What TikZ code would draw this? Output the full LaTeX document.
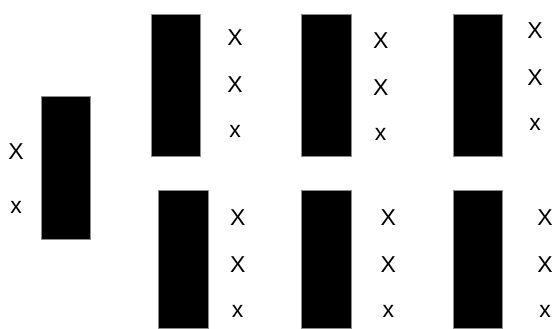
\documentclass[tikz,border=0pt]{standalone}
\usepackage{fontspec}
\setmainfont{Liberation Sans}
\usetikzlibrary{positioning}
\tikzset{
  bar/.style={
    draw=black!45,
    fill=black,
    rectangle,
    line width=0.6pt,
    inner sep=0pt,
    minimum width=49.5pt,
  },
  tallbar/.style={
    bar,
    minimum height=142.7pt
  },
  shortbar/.style={
    bar,
    minimum height=138pt
  },
  mark label/.style={
    inner sep=0pt,
    font=\fontsize{23}{27}\selectfont
  }
}
\begin{document}
\begin{tikzpicture}[x=1pt, y=-1pt]
  \useasboundingbox (0,0) rectangle (555,329);
  % Barres
  \node[bar, minimum height=143pt] (b0) at (66,167.5) {};
  \node[tallbar] (t1) at (175.7,85.3) {};
  \node[tallbar] (t2) at (326.3,85.3) {};
  \node[tallbar] (t3) at (478,85.3) {};
  \node[shortbar] (s1) at (183.5,259.2) {};
  \node[shortbar] (s2) at (326.3,259.2) {};
  \node[shortbar] (s3) at (478,259.2) {};

  % Marques
  \node[mark label] (b0a) at (16,151.7) {X};
  \node[mark label] (b0b) at (16,207) {x};

  \node[mark label] (t1a) at (235,37.7) {X};
  \node[mark label] (t1b) at (235,85) {X};
  \node[mark label] (t1c) at (235,131.7) {x};

  \node[mark label] (t2a) at (380.7,40.7) {X};
  \node[mark label] (t2b) at (380.7,87.3) {X};
  \node[mark label] (t2c) at (380.7,134) {x};

  \node[mark label] (t3a) at (535,30.7) {X};
  \node[mark label] (t3b) at (535,77.3) {X};
  \node[mark label] (t3c) at (535,124) {x};

  \node[mark label] (s1a) at (237.7,217.7) {X};
  \node[mark label] (s1b) at (237.7,265) {X};
  \node[mark label] (s1c) at (237.7,311.7) {x};

  \node[mark label] (s2a) at (388.3,217.7) {X};
  \node[mark label] (s2b) at (388.3,265) {X};
  \node[mark label] (s2c) at (388.3,311.7) {x};

  \node[mark label] (s3a) at (545,217.7) {X};
  \node[mark label] (s3b) at (545,265) {X};
  \node[mark label] (s3c) at (545,311.7) {x};
\end{tikzpicture}
\end{document}
